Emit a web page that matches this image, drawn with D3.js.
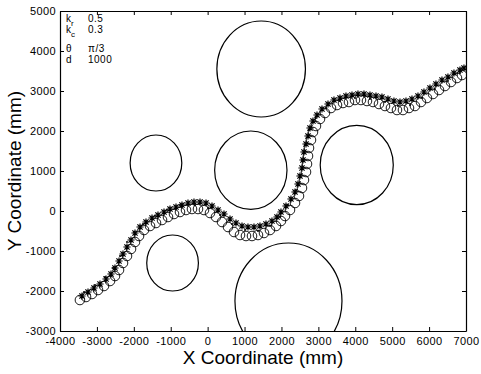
<!DOCTYPE html>
<html>
<head>
<meta charset="utf-8">
<script src="https://cdn.jsdelivr.net/npm/d3@7"></script>
<style>
  html, body { margin: 0; padding: 0; background: #fff; }
  svg { display: block; }
  text { font-family: "Liberation Sans", Arial, Helvetica, sans-serif; fill: #000; }
</style>
</head>
<body>
<svg id="chart" width="481" height="374"></svg>
<script>
// Obstacles: centre (mm) and radius (mm)
const obstacleX = [1450, -1400, 1170, 4040, -950, 2190];
const obstacleY = [3550, 1200, 1020, 1150, -1300, -2250];
const obstacleR = [1200, 700, 980, 990, 700, 1450];

// Robot trajectory, circle markers
const pathCircleX = [-3460, -3295, -3133, -2970, -2808, -2645, -2510, -2401, -2293, -2185, -2076, -1968, -1859, -1724, -1561, -1399, -1236, -1074, -911, -749, -586, -424, -261, -99, 64, 226, 389, 552, 714, 877, 1039, 1202, 1364, 1527, 1689, 1852, 1987, 2096, 2231, 2367, 2475, 2556, 2610, 2665, 2692, 2719, 2746, 2800, 2854, 2935, 3044, 3179, 3342, 3504, 3667, 3829, 3992, 4154, 4317, 4480, 4642, 4805, 4967, 5130, 5292, 5455, 5617, 5780, 5942, 6105, 6268, 6430, 6593, 6755, 6891];
const pathCircleY = [-2225, -2150, -2075, -1975, -1875, -1750, -1625, -1475, -1300, -1125, -950, -775, -625, -475, -375, -300, -225, -150, -75, -25, 25, 50, 50, 25, -50, -150, -275, -400, -525, -600, -625, -625, -600, -550, -475, -375, -250, -125, 25, 200, 375, 575, 775, 975, 1175, 1375, 1575, 1775, 1975, 2125, 2300, 2450, 2575, 2650, 2700, 2725, 2775, 2775, 2750, 2725, 2675, 2625, 2575, 2525, 2525, 2575, 2625, 2725, 2825, 2925, 3025, 3125, 3225, 3325, 3400];

// Robot trajectory, asterisk markers
const pathStarX = [-3404, -3241, -3079, -2916, -2753, -2618, -2510, -2401, -2293, -2185, -2076, -1968, -1832, -1670, -1507, -1345, -1182, -1020, -857, -695, -532, -370, -207, -44, 118, 281, 443, 606, 768, 931, 1093, 1256, 1418, 1581, 1743, 1879, 1987, 2123, 2258, 2367, 2448, 2502, 2556, 2583, 2610, 2665, 2719, 2773, 2854, 2963, 3098, 3261, 3423, 3586, 3748, 3911, 4073, 4236, 4398, 4561, 4723, 4886, 5048, 5211, 5374, 5536, 5699, 5861, 6024, 6186, 6349, 6511, 6674, 6836, 6945];
const pathStarY = [-2125, -2025, -1925, -1825, -1700, -1575, -1425, -1250, -1075, -900, -725, -550, -400, -275, -175, -100, -25, 50, 100, 150, 200, 225, 225, 200, 125, 25, -75, -200, -300, -375, -400, -400, -375, -325, -250, -150, -25, 125, 300, 475, 675, 875, 1075, 1275, 1475, 1675, 1875, 2075, 2250, 2400, 2550, 2675, 2775, 2825, 2875, 2900, 2925, 2925, 2900, 2875, 2850, 2800, 2750, 2725, 2750, 2800, 2875, 2975, 3075, 3175, 3275, 3350, 3450, 3525, 3575];

// Sampled reference points, dot markers
const pathDotX = [-3349, -3051, -2781, -2564, -2374, -2185, -1995, -1751, -1426, -1101, -749, -342, 10, 335, 660, 1012, 1364, 1689, 1960, 2177, 2394, 2502, 2556, 2637, 2746, 2935, 3206, 3586, 3992, 4398, 4805, 5157, 5482, 5807, 6159, 6511, 6836];
const pathDotY = [-2025, -1850, -1650, -1425, -1125, -775, -525, -325, -125, 25, 150, 150, 75, -100, -325, -475, -500, -375, -150, 150, 525, 900, 1275, 1650, 2025, 2325, 2575, 2750, 2825, 2800, 2725, 2625, 2650, 2825, 3050, 3250, 3450];

// Axis ticks
const xTicks = [-4000, -3000, -2000, -1000, 0, 1000, 2000, 3000, 4000, 5000, 6000, 7000];
const yTicks = [-3000, -2000, -1000, 0, 1000, 2000, 3000, 4000, 5000];

// Parameter legend
const paramNames = ["k", "k", "\u03b8", "d"];
const paramSubs = ["r", "c", "", ""];
const paramValues = ["0.5", "0.3", "\u03c0/3", "1000"];

const svg = d3.select("#chart");
const plotLeft = 60, plotRight = 466, plotTop = 11, plotBottom = 331;

const x = d3.scaleLinear().domain([-4000, 7000]).range([plotLeft, plotRight]);
const y = d3.scaleLinear().domain([-3000, 5000]).range([plotBottom, plotTop]);

svg.append("defs").append("clipPath").attr("id", "plot-clip")
  .append("rect").attr("x", plotLeft).attr("y", plotTop)
  .attr("width", plotRight - plotLeft).attr("height", plotBottom - plotTop);

const plot = svg.append("g").attr("clip-path", "url(#plot-clip)");

// Obstacles (data-space circles, so they appear as ellipses)
const kx = (x(1000) - x(0)) / 1000;
const ky = (y(0) - y(1000)) / 1000;
plot.append("g").selectAll("ellipse")
  .data(d3.range(obstacleX.length))
  .join("ellipse")
  .attr("cx", i => x(obstacleX[i]))
  .attr("cy", i => y(obstacleY[i]))
  .attr("rx", i => obstacleR[i] * kx)
  .attr("ry", i => obstacleR[i] * ky)
  .attr("fill", "none")
  .attr("stroke", "#000")
  .attr("stroke-width", 1.2);

// Circle markers
plot.append("g").selectAll("circle")
  .data(d3.range(pathCircleX.length))
  .join("circle")
  .attr("cx", i => x(pathCircleX[i]))
  .attr("cy", i => y(pathCircleY[i]))
  .attr("r", 4.8)
  .attr("fill", "none")
  .attr("stroke", "#000")
  .attr("stroke-width", 0.9);

// Asterisk markers
const star = "M-3.6,0H3.6M0,-3.6V3.6M-2.6,-2.6L2.6,2.6M-2.6,2.6L2.6,-2.6";
plot.append("g").selectAll("path")
  .data(d3.range(pathStarX.length))
  .join("path")
  .attr("transform", i => `translate(${x(pathStarX[i])},${y(pathStarY[i])})`)
  .attr("d", star)
  .attr("fill", "none")
  .attr("stroke", "#000")
  .attr("stroke-width", 1.2);

// Dot markers
plot.append("g").selectAll("circle")
  .data(d3.range(pathDotX.length))
  .join("circle")
  .attr("cx", i => x(pathDotX[i]))
  .attr("cy", i => y(pathDotY[i]))
  .attr("r", 1)
  .attr("fill", "#000");

// Axes: box with inward ticks, plain integer labels
const plain = d => String(d);
const tickFont = g => g.selectAll("text")
  .style("font-size", "11px")
  .style("letter-spacing", "0.4px");

svg.append("g").attr("transform", `translate(0,${plotBottom})`)
  .call(d3.axisBottom(x).tickValues(xTicks).tickFormat(plain).tickSize(-4).tickPadding(6).tickSizeOuter(0))
  .call(g => g.select(".domain").attr("stroke-width", 1.2))
  .call(tickFont);

svg.append("g").attr("transform", `translate(0,${plotTop})`)
  .call(d3.axisTop(x).tickValues(xTicks).tickSize(-4).tickFormat("").tickSizeOuter(0))
  .call(g => g.select(".domain").attr("stroke-width", 1.2));

svg.append("g").attr("transform", `translate(${plotLeft},0)`)
  .call(d3.axisLeft(y).tickValues(yTicks).tickFormat(plain).tickSize(-4).tickPadding(4).tickSizeOuter(0))
  .call(g => g.select(".domain").attr("stroke-width", 1.2))
  .call(tickFont);

svg.append("g").attr("transform", `translate(${plotRight},0)`)
  .call(d3.axisRight(y).tickValues(yTicks).tickSize(-4).tickFormat("").tickSizeOuter(0))
  .call(g => g.select(".domain").attr("stroke-width", 1.2));

svg.selectAll(".tick line").attr("stroke", "#000");

// Axis titles
svg.append("text")
  .attr("x", (plotLeft + plotRight) / 2)
  .attr("y", 364)
  .attr("text-anchor", "middle")
  .style("font-size", "19px")
  .text("X Coordinate (mm)");

svg.append("text")
  .attr("transform", `translate(21,${(plotTop + plotBottom) / 2}) rotate(-90)`)
  .attr("text-anchor", "middle")
  .style("font-size", "19px")
  .text("Y Coordinate (mm)");

// Parameter legend in the upper-left corner
const legendY = [22, 33, 52, 63];
const legend = svg.append("g");
paramNames.forEach((name, i) => {
  const t = legend.append("text")
    .attr("x", 66)
    .attr("y", legendY[i])
    .style("font-size", "10px");
  t.append("tspan").text(name);
  if (paramSubs[i]) {
    t.append("tspan").attr("dy", 4).style("font-size", "8px").text(paramSubs[i]);
  }
  legend.append("text")
    .attr("x", 88)
    .attr("y", legendY[i])
    .style("font-size", "10px")
    .style("letter-spacing", "0.5px")
    .text(paramValues[i]);
});
</script>
</body>
</html>
